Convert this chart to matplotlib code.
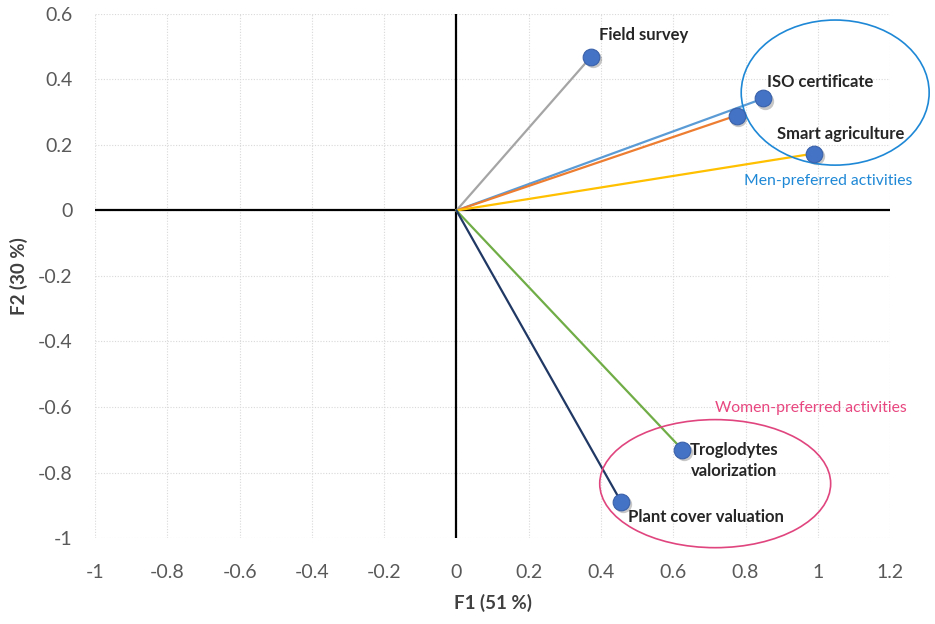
import matplotlib.pyplot as plt
import matplotlib.transforms as mtransforms
from matplotlib.patches import Ellipse
import numpy as np

plt.rcParams["font.family"] = ["Lato", "DejaVu Sans"]

# Variable coordinates on F1 / F2
names = ["Field survey", "ISO certificate", "Unlabelled", "Smart agriculture",
         "Troglodytes valorization", "Plant cover valuation"]
f1 = [0.373, 0.849, 0.775, 0.990, 0.625, 0.456]
f2 = [0.470, 0.342, 0.290, 0.174, -0.730, -0.890]
line_colors = ["#A5A5A5", "#5B9BD5", "#ED7D31", "#FFC000", "#70AD47", "#203864"]

x_ticks = np.round(np.arange(-1, 1.21, 0.2), 1)
y_ticks = np.round(np.arange(-1, 0.61, 0.2), 1)

fig = plt.figure(figsize=(9.35, 6.24), dpi=100)
ax = fig.add_axes([0.1016, 0.1378, 0.8504, 0.8398])

for x, y, c in zip(f1, f2, line_colors):
    ax.plot([0, x], [0, y], color=c, lw=1.6, zorder=3)

# soft shadow under the markers
shadow = mtransforms.offset_copy(ax.transData, fig=fig, x=1.2, y=-1.5, units="points")
ax.plot(f1, f2, "o", ms=12.5, color="black", alpha=0.22, mew=0, transform=shadow, zorder=4)
ax.plot(f1, f2, "o", ms=12, color="#4472C4", mec="#3A62AA", mew=0.8, zorder=5)

# axes through origin
ax.axhline(0, color="black", lw=1.6, zorder=2)
ax.axvline(0, color="black", lw=1.6, zorder=2)

ax.set_xlim(-1, 1.2)
ax.set_ylim(-1, 0.6)
ax.set_xticks(x_ticks)
ax.set_yticks(y_ticks)
fmt = lambda v: "0" if v == 0 else f"{v:g}"
ax.set_xticklabels([fmt(v) for v in x_ticks])
ax.set_yticklabels([fmt(v) for v in y_ticks])
ax.tick_params(length=0, labelsize=14, labelcolor="#595959")
ax.tick_params(axis="x", pad=19)
ax.tick_params(axis="y", pad=16)
for s in ax.spines.values():
    s.set_visible(False)
ax.grid(True, color="#D9D9D9", lw=0.8, ls=(0, (1, 1.5)), zorder=0)

ax.set_xlabel("F1 (51 %)", fontsize=13.5, fontweight="bold", color="#404040", labelpad=9)
ax.set_ylabel("F2 (30 %)", fontsize=13.5, fontweight="bold", color="#404040", labelpad=7.5)

lab = dict(fontsize=12, fontweight="bold", color="#262626", zorder=6)
ax.text(0.395, 0.535, names[0], ha="left", va="center", **lab)
ax.text(0.860, 0.392, names[1], ha="left", va="center", **lab)
ax.text(0.888, 0.235, names[3], ha="left", va="center", **lab)
ax.text(0.768, -0.763, "Troglodytes\nvalorization", ha="center", va="center",
        linespacing=1.35, **lab)
ax.text(0.475, -0.935, names[5], ha="left", va="center", **lab)

ax.text(0.797, 0.09, "Men-preferred activities", color="#1E88D6", fontsize=11.3,
        ha="left", va="center", zorder=6)
ax.text(0.716, -0.603, "Women-preferred activities", color="#E8467F", fontsize=11.3,
        ha="left", va="center", zorder=6)

ax.add_patch(Ellipse((1.048, 0.36), 0.52, 0.443, fill=False, ec="#1E88D6", lw=1.2,
                     clip_on=False, zorder=4))
ax.add_patch(Ellipse((0.716, -0.834), 0.639, 0.391, fill=False, ec="#E0457E", lw=1.2,
                     clip_on=False, zorder=4))

fig.savefig("out.png", dpi=100)
